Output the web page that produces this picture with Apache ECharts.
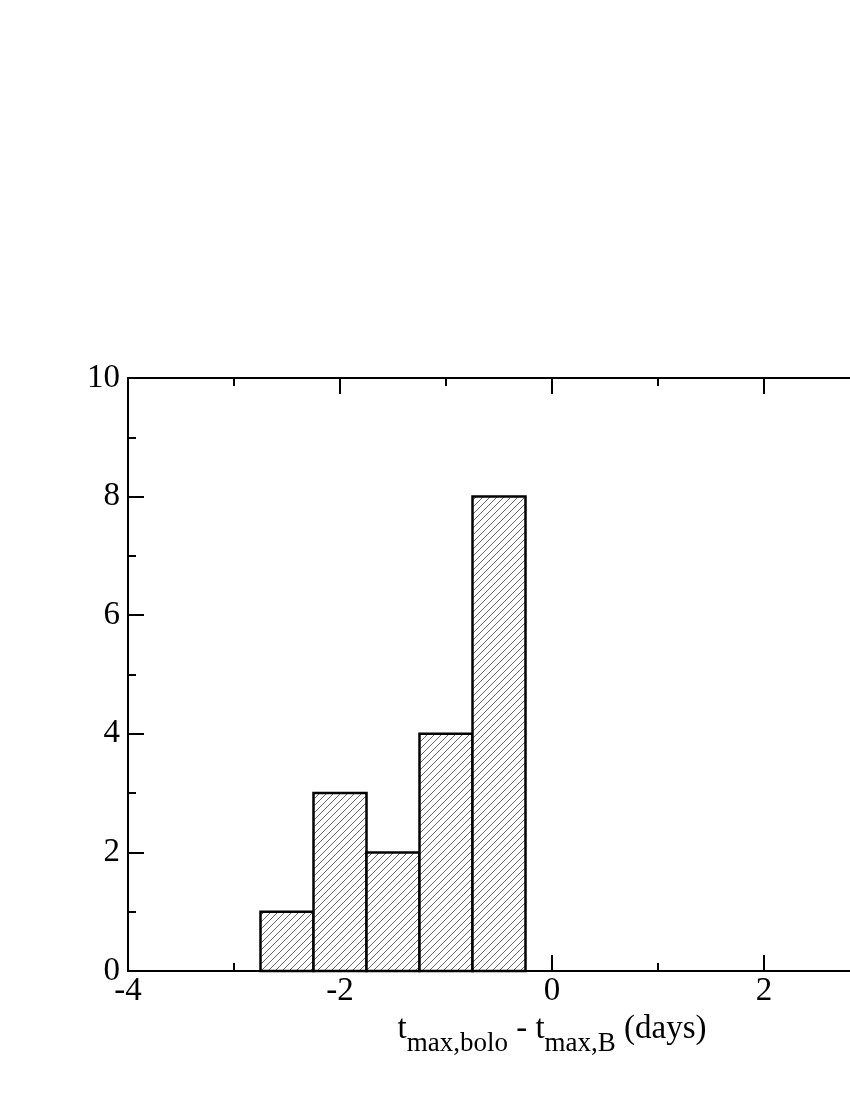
<!DOCTYPE html>
<html>
<head>
<meta charset="utf-8">
<script src="https://cdn.jsdelivr.net/npm/echarts@6/dist/echarts.min.js"></script>
<style>
  html, body { margin: 0; padding: 0; background: #fff; }
  #chart { width: 850px; height: 1100px; }
</style>
</head>
<body>
<div id="chart"></div>
<script>
// histogram bins (days) and counts
var binLeft = [-2.75, -2.25, -1.75, -1.25, -0.75];
var binRight = [-2.25, -1.75, -1.25, -0.75, -0.25];
var counts = [1, 3, 2, 4, 8];

// hatch pattern "/"
function hatch() {
  var s = 7;
  var c = document.createElement('canvas');
  c.width = s; c.height = s;
  var g = c.getContext('2d');
  g.fillStyle = '#fff';
  g.fillRect(0, 0, s, s);
  g.strokeStyle = '#222';
  g.lineWidth = 0.7;
  g.beginPath();
  g.moveTo(-1, s + 1); g.lineTo(s + 1, -1);
  g.moveTo(-1, 1); g.lineTo(1, -1);
  g.moveTo(s - 1, s + 1); g.lineTo(s + 1, s - 1);
  g.stroke();
  return c;
}

var data = counts.map(function (v, i) { return [binLeft[i], binRight[i], v]; });
var font = 'Liberation Serif';
var black = '#000';

var tick = { show: true, inside: true, length: 16, lineStyle: { color: black, width: 2 } };
var minor = { show: true, splitNumber: 2, length: 8, lineStyle: { color: black, width: 2 } };
var line = { show: true, onZero: false, lineStyle: { color: black, width: 2 } };

var chart = echarts.init(document.getElementById('chart'));
chart.setOption({
  animation: false,
  // plot runs past the right edge (-4..4), like the cropped original
  grid: { left: 128, top: 378, width: 848, height: 593, containLabel: false, outerBoundsMode: 'none' },
  xAxis: [{
    type: 'value', min: -4, max: 4, interval: 2, position: 'bottom',
    axisLine: line, axisTick: tick, minorTick: minor,
    splitLine: { show: false },
    axisLabel: { color: black, fontFamily: font, fontSize: 33, margin: 4 },
    name: '{t|t}{s|max,bolo}{t| - t}{s|max,B}{t| (days)}',
    nameLocation: 'middle', nameGap: 35,
    nameTextStyle: {
      rich: {
        t: { fontFamily: font, fontSize: 33, color: black, verticalAlign: 'bottom', lineHeight: 36 },
        s: { fontFamily: font, fontSize: 27, color: black, verticalAlign: 'bottom', lineHeight: 36, padding: [0, 0, -12, 0] }
      }
    }
  }, {
    type: 'value', min: -4, max: 4, interval: 2, position: 'top',
    axisLine: line, axisTick: tick, minorTick: minor,
    splitLine: { show: false },
    axisLabel: { show: false }
  }],
  yAxis: {
    type: 'value', min: 0, max: 10, interval: 2,
    axisLine: line, axisTick: tick, minorTick: minor,
    splitLine: { show: false },
    axisLabel: { color: black, fontFamily: font, fontSize: 33, margin: 8 }
  },
  series: [{
    type: 'custom',
    xAxisIndex: 0,
    data: data,
    renderItem: function (params, api) {
      var p0 = api.coord([api.value(0), api.value(2)]);
      var p1 = api.coord([api.value(1), 0]);
      return {
        type: 'rect',
        shape: { x: p0[0], y: p0[1], width: p1[0] - p0[0], height: p1[1] - p0[1] },
        style: {
          fill: { image: hatch(), repeat: 'repeat' },
          stroke: black,
          lineWidth: 2.5
        }
      };
    }
  }]
});
</script>
</body>
</html>
